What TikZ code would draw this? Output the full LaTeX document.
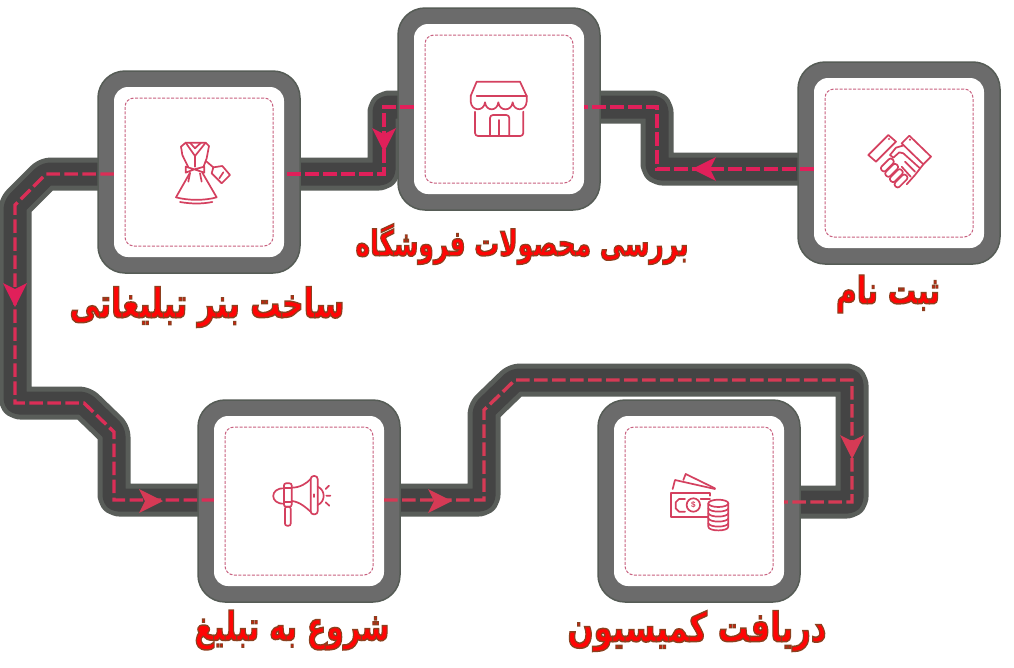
\documentclass[tikz,border=0pt]{standalone}
\usepackage{fontspec}
\setmainfont{Liberation Sans}
\newfontfamily\arabicfont[Script=Arabic,BoldFont={DejaVu Sans Bold}]{DejaVu Sans}
\TeXXeTstate=1
\definecolor{boxgray}{HTML}{6B6B6B}
\definecolor{boxedge}{HTML}{565C56}
\definecolor{bandin}{HTML}{444444}
\definecolor{bandedge}{HTML}{595D59}
\definecolor{hotred}{HTML}{E0205A}
\definecolor{dullred}{HTML}{D63A55}
\definecolor{iconred}{HTML}{D4405F}
\definecolor{dashpink}{HTML}{C8607F}
\definecolor{labelred}{HTML}{FF0505}
\newcommand{\outlineon}{\special{pdf:code q 2 Tr 0.36 w 0.55 0.25 0.12 RG}}
\newcommand{\outlineoff}{\special{pdf:code Q}}
\newcommand{\headmark}[4]{\fill[#4,shift={(#1,#2)},rotate=#3] (12,0) -- (-12,12) -- (-6,0) -- (-12,-12) -- cycle;}
\tikzset{
  outerbox/.style={draw=boxedge,line width=1.5pt,fill=boxgray,rounded corners=27pt,minimum width=202pt,minimum height=202pt,inner sep=0pt},
  innerbox/.style={fill=white,rounded corners=14pt,minimum width=170pt,minimum height=170pt,inner sep=0pt},
  dashbox/.style={draw=dashpink,dash pattern=on 3pt off 1.5pt,line width=1pt,rounded corners=9pt,minimum width=148pt,minimum height=148pt,inner sep=0pt},
  bandedgeline/.style={draw=bandedge,line width=33pt,rounded corners=5pt,line join=round},
  bandinline/.style={draw=bandin,line width=23pt,rounded corners=4pt,line join=round},
  routeline/.style={line width=3.4pt,dash pattern=on 13.5pt off 4.5pt,line join=miter},
  iconline/.style={draw=iconred,line width=1.7pt,line join=round,line cap=round},
  iconframe/.style={x=.3333pt,y=-.3333pt},
  stagelabel/.style={text=labelred,inner sep=0pt,font=\arabicfont\bfseries}
}
\begin{document}
\begin{tikzpicture}[x=1pt,y=-1pt]
\useasboundingbox (0,0) rectangle (1014,667);
\fill[white] (0,0) rectangle (1014,667);

% anchor nodes of the white faces (drawn again later on top)
\node[minimum width=170pt,minimum height=170pt,inner sep=0pt] (a1) at (899,163) {};
\node[minimum width=170pt,minimum height=170pt,inner sep=0pt] (a2) at (499,109) {};
\node[minimum width=170pt,minimum height=170pt,inner sep=0pt] (a3) at (199,172) {};
\node[minimum width=170pt,minimum height=170pt,inner sep=0pt] (a4) at (299,501) {};
\node[minimum width=170pt,minimum height=170pt,inner sep=0pt] (a5) at (699,501) {};

% routes
\def\routeA{([yshift=-6pt]a1.west) -- (657,169) -- (657,107) -- ([yshift=2pt]a2.east)}
\def\routeB{([yshift=2pt]a2.west) -- (384,107) -- (384,174) -- ([yshift=-2pt]a3.east)}
\def\routeC{([yshift=-2pt]a3.west) -- (46,174) -- (15,205) -- (15,403) -- (84,403) -- (114,432) -- (114,500) -- ([yshift=1pt]a4.west)}
\def\routeD{([yshift=1pt]a4.east) -- (484,500) -- (484,410) -- (515,380) -- (852,380) -- (852,502) -- ([yshift=-1pt]a5.east)}
\foreach \r in {\routeA,\routeB,\routeC,\routeD}{
  \draw[bandedgeline] \r;
}
\foreach \r in {\routeA,\routeB,\routeC,\routeD}{
  \draw[bandinline] \r;
}

% boxes
\foreach \n/\p in {1/{899,163},2/{499,109},3/{199,172},4/{299,501},5/{699,501}}{
  \node[outerbox] (o\n) at (\p) {};
  \node[innerbox] at (\p) {};
  \node[dashbox] (d\n) at (\p) {};
}

% dashed routes on top
\draw[routeline,hotred] \routeA;
\draw[routeline,hotred] \routeB;
\draw[routeline,dullred!55!hotred] \routeC;
\draw[routeline,dullred] \routeD;
\headmark{704}{169}{180}{hotred}
\headmark{384}{140}{-90}{hotred}
\headmark{15}{295}{-90}{hotred}
\headmark{151}{501}{0}{dullred}
\headmark{440}{501}{0}{dullred}
\headmark{852}{447}{-90}{dullred}

% handshake
\begin{scope}[shift={(860,125)},iconframe]
\draw[iconline] (25,90) -- (85,30) -- (108,50) -- (48,110) -- cycle;
\draw[iconline] (148,32) -- (213,95) -- (190,118) -- (125,55) -- cycle;
\draw[iconline] (128,62) -- (108,68) -- (90,90) -- (100,98) -- (118,82) -- (130,85) -- (180,130);
\draw[iconline] (190,118) -- (165,150) -- (140,178);
\draw[iconline] (135,110) -- (165,140);
\draw[iconline] (125,125) -- (152,155);
\foreach \c in {{82,120},{95,136},{109,152},{123,168}}{
  \draw[iconline,rounded corners=2.5pt,fill=white,shift={(\c)},rotate=45] (-23,-9) rectangle (23,9);
}
\fill[iconred] (87,42) circle (1.2pt) (150,44) circle (1.2pt);
\end{scope}

% shop
\begin{scope}[shift={(460,70)},iconframe]
\draw[iconline] (32,78) -- (50,35) -- (180,35) -- (200,78);
\draw[iconline] (50,78) -- (200,78);
\draw[iconline] (32,78) -- (32,95) .. controls (35,125) and (72,125) .. (75,97) .. controls (78,125) and (112,125) .. (115,97) .. controls (118,125) and (155,125) .. (158,97) .. controls (161,125) and (198,125) .. (200,95) -- (200,78);
\draw[iconline,rounded corners=3pt] (45,125) -- (45,198) -- (190,198) -- (190,125);
\draw[iconline,rounded corners=3pt] (90,195) -- (90,135) -- (148,135) -- (148,195);
\draw[iconline] (118,150) -- (118,195);
\end{scope}

% dress
\begin{scope}[shift={(165,130)},iconframe]
\draw[iconline] (48,50) -- (62,38) -- (122,38) -- (132,48) -- (125,85) -- (115,112);
\draw[iconline] (48,50) -- (52,75) -- (70,112);
\draw[iconline] (62,38) -- (90,78) -- (122,38);
\draw[iconline] (75,38) -- (90,55) -- (108,38);
\draw[iconline] (90,78) -- (90,110);
\draw[iconline] (62,110) -- (62,128) -- (88,118) -- (118,128) -- (118,110) -- (88,118) -- cycle;
\draw[iconline] (75,128) -- (33,202) .. controls (70,212) and (120,212) .. (155,202) -- (112,128);
\draw[iconline] (45,216) .. controls (80,222) and (110,222) .. (142,216);
\draw[iconline] (75,130) -- (70,155);
\draw[iconline] (105,130) -- (110,155);
\draw[iconline] (125,95) -- (145,112);
\draw[iconline] (145,112) -- (172,108) -- (195,135) -- (170,160) -- (140,130) -- cycle;
\draw[iconline] (163,145) -- (175,127);
\end{scope}

% megaphone
\begin{scope}[shift={(265,465)},iconframe]
\draw[iconline,rounded corners=2pt] (57,55) rectangle (80,125);
\draw[iconline,rounded corners=2pt] (60,125) rectangle (77,182);
\draw[iconline] (57,70) -- (80,70) (57,110) -- (80,110);
\draw[iconline] (57,70) .. controls (14,68) and (14,118) .. (57,116);
\draw[iconline] (80,68) .. controls (105,68) and (125,55) .. (137,42);
\draw[iconline] (80,108) .. controls (105,110) and (125,130) .. (137,140);
\draw[iconline,rounded corners=3pt] (137,33) rectangle (158,148);
\draw[iconline] (158,65) .. controls (182,75) and (182,110) .. (158,120);
\draw[iconline] (182,72) -- (192,62) (184,92) -- (196,92) (182,112) -- (193,122);
\draw[iconline] (147,88) -- (147,96);
\end{scope}

% money
\begin{scope}[shift={(660,465)},iconframe]
\draw[iconline] (38,72) -- (45,45) -- (165,72);
\draw[iconline] (70,45) -- (77,27) -- (165,70);
\draw[iconline] (150,92) -- (150,85) -- (32,85) -- (32,155) -- (145,155);
\draw[iconline] (75,102) -- (57,102) -- (47,112) -- (47,130) -- (57,140) -- (75,140);
\draw[iconline] (122,102) -- (150,102);
\draw[iconline] (100,120) circle (6.7pt);
\node[text=iconred,font=\bfseries\fontsize{8pt}{8pt}\selectfont,inner sep=0pt] (dollar) at (100,120) {\$};
\draw[iconline,fill=white] (145,115) -- (145,185) .. controls (145,200) and (205,200) .. (205,185) -- (205,115);
\draw[iconline,fill=white] (175,115) ellipse [x radius=30,y radius=11];
\foreach \y in {130,145,160,175}{
  \draw[iconline] (145,\y) .. controls (150,\y+13) and (200,\y+13) .. (205,\y);
}
\end{scope}

% labels
\node[stagelabel] (t1) at (888,294) {\resizebox*{104pt}{38pt}{\outlineon\beginR ثبت نام\endR\outlineoff}};
\node[stagelabel] (t2) at (522,244) {\resizebox*{333pt}{41pt}{\outlineon\beginR بررسی محصولات فروشگاه\endR\outlineoff}};
\node[stagelabel] (t3) at (207,307) {\resizebox*{275pt}{41pt}{\outlineon\beginR ساخت بنر تبلیغاتی\endR\outlineoff}};
\node[stagelabel] (t4) at (292,630) {\resizebox*{195pt}{40pt}{\outlineon\beginR شروع به تبلیغ\endR\outlineoff}};
\node[stagelabel] (t5) at (697,631) {\resizebox*{259pt}{41pt}{\outlineon\beginR دریافت کمیسیون\endR\outlineoff}};
\end{tikzpicture}
\end{document}
